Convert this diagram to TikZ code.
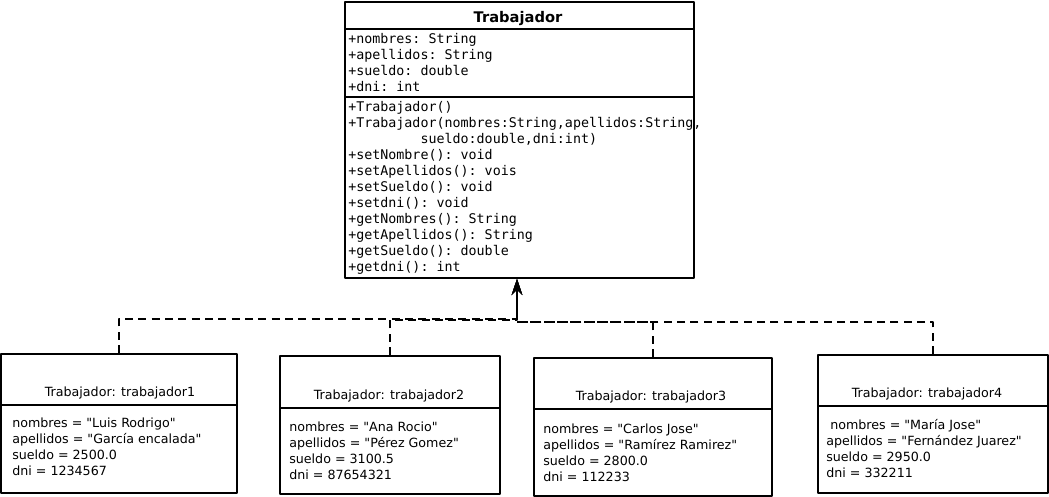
\documentclass[tikz,border=0pt]{standalone}
\usepackage{fontspec}
\setmainfont{DejaVu Sans}[Ligatures=TeXOff]
\setmonofont{DejaVu Sans Mono}
\usetikzlibrary{arrows.meta,positioning,calc}
\tikzset{
caja/.style={draw, line width=1.5pt},
titulo/.style={font=\fontsize{11}{13}\selectfont\bfseries, anchor=base, inner sep=0pt},
miembro/.style={font=\fontsize{10}{12}\selectfont\ttfamily, align=left, anchor=base west, inner sep=0pt},
objtitulo/.style={font=\fontsize{9.5}{12}\selectfont, anchor=base, inner sep=0pt},
atributo/.style={font=\fontsize{9.5}{12}\selectfont, align=left, anchor=base west, inner sep=0pt},
instancia/.style={draw, line width=1.5pt, dash pattern=on 6pt off 4pt, -{Stealth[length=12pt,width=8pt,inset=4pt]}}
}
\newcommand \mycaja[6]
{
\node[caja, minimum width=#4*0.75pt, minimum height=#5*0.75pt, anchor=north west] (#1) at (#2,#3) {};
\draw[caja] ($(#1.north west)+(0,#6)$)--($(#1.north east)+(0,#6)$);
}
\begin{document}
\begin{tikzpicture}[x=0.75pt, y=-0.75pt, line join=round]
\useasboundingbox (0,0) rectangle (1049,496);
% clase (anchor base = ultima linea)
\mycaja{cls}{344}{1}{349}{276}{28}
\draw[caja] ($(cls.north west)+(0,96)$)--($(cls.north east)+(0,96)$);
\node[titulo] (clsname) at (518,22) {Trabajador};
\node[miembro] (clsattr) at (348,91.5) {+nombres: String\\+apellidos: String\\+sueldo: double\\+dni: int};
\node[miembro] (clsmet) at (348,271) {+Trabajador()\\+Trabajador(nombres:String,apellidos:String,\\\phantom{xxxxxxxxx}sueldo:double,dni:int)\\+setNombre(): void\\+setApellidos(): vois\\+setSueldo(): void\\+setdni(): void\\+getNombres(): String\\+getApellidos(): String\\+getSueldo(): double\\+getdni(): int};
% objetos
\mycaja{obj1}{0}{353}{236}{139}{52}
\mycaja{obj2}{279}{355}{220}{138}{53}
\mycaja{obj3}{533}{357}{238}{138}{52}
\mycaja{obj4}{817}{354}{230}{138}{52}
\node[objtitulo] (name1) at (120,396) {Trabajador: trabajador1};
\node[objtitulo] (name2) at (389,399) {Trabajador: trabajador2};
\node[objtitulo] (name3) at (651,400) {Trabajador: trabajador3};
\node[objtitulo] (name4) at (927,397) {Trabajador: trabajador4};
\node[atributo] (val1) at (12,475) {nombres = "Luis Rodrigo"\\apellidos = "García encalada"\\sueldo = 2500.0\\dni = 1234567};
\node[atributo] (val2) at (289,479) {nombres = "Ana Rocio"\\apellidos = "Pérez Gomez"\\sueldo = 3100.5\\dni = 87654321};
\node[atributo] (val3) at (543,481) {nombres = "Carlos Jose"\\apellidos = "Ramírez Ramirez"\\sueldo = 2800.0\\dni = 112233};
\node[atributo] (val4) at (826,477) {\hspace*{3pt}nombres = "María Jose"\\apellidos = "Fernández Juarez"\\sueldo = 2950.0\\dni = 332211};
% conectores
\coordinate (h1) at (517,319);
\coordinate (h2) at (517,320);
\coordinate (h3) at (517,322);
\coordinate (h4) at (517,322);
\draw[instancia] (obj1.north) |- (h1) -- (h1 |- cls.south);
\draw[instancia] (obj2.north) |- (h2) -- (h2 |- cls.south);
\draw[instancia] (obj3.north) |- (h3) -- (h3 |- cls.south);
\draw[instancia] (obj4.north) |- (h4) -- (h4 |- cls.south);
\end{tikzpicture}
\end{document}
